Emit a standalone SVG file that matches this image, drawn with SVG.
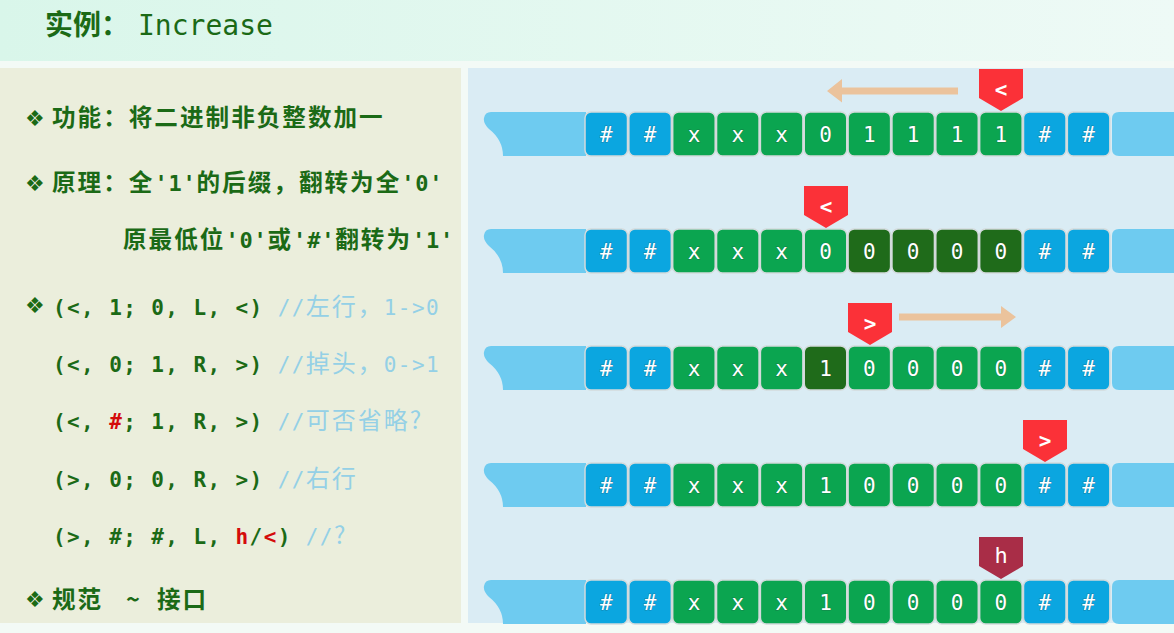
<svg xmlns="http://www.w3.org/2000/svg" width="1174" height="633" viewBox="0 0 1174 633">
<defs>
<linearGradient id="tg" x1="0" y1="0" x2="1" y2="0">
<stop offset="0" stop-color="#d9f6ea"/>
<stop offset="1" stop-color="#eefaf6"/>
</linearGradient>
<style>
.cjkb{font-family:"Noto Sans CJK SC","Noto Sans CJK JP",sans-serif;font-weight:bold;font-size:23.6px;letter-spacing:2px;fill:#1b6a16}
.monoi{font-family:"DejaVu Sans Mono",monospace;font-weight:bold;font-size:22px;letter-spacing:0.8px}
.mono{font-family:"DejaVu Sans Mono",monospace;font-weight:bold;font-size:21px;letter-spacing:1.4px;fill:#1b6a16}
.cm{font-family:"DejaVu Sans Mono",monospace;font-weight:normal;fill:#94d0e6}
.cmc{font-family:"Noto Sans CJK SC",sans-serif;font-weight:normal;font-size:24px;letter-spacing:2px;fill:#94d0e6}
.red{fill:#d40b0b}
.bul{font-family:"DejaVu Sans",sans-serif;font-size:22px;fill:#1b6a16}
.cell{stroke:#d3dadb;stroke-width:1.5}
.b{fill:#0ba6e0}
.g{fill:#0ba550}
.d{fill:#1f6b1a}
.ct{font-family:"DejaVu Sans Mono",monospace;font-size:21px;fill:#ffffff;text-anchor:middle;stroke:#2a3a3a;stroke-opacity:0.35;stroke-width:1;paint-order:stroke}
.end{fill:#6ecbf0}
.head{fill:#fb3138}
.hh{fill:#a92d47}
.ht{font-family:"DejaVu Sans Mono",monospace;font-size:21px;font-weight:bold;fill:#ffffff;text-anchor:middle}
.arr{fill:#ebc39c}
</style>
</defs>
<rect width="1174" height="633" fill="#f3faf6"/>
<rect x="0" y="0" width="1174" height="61" fill="url(#tg)"/>
<rect x="0" y="68" width="461" height="555" fill="#ebeedc"/>
<rect x="468" y="68" width="706" height="555" fill="#daecf4"/>

<g id="title">
<text x="45" y="35" style="font-family:'Noto Sans CJK SC',sans-serif;font-weight:bold;font-size:28px;fill:#1b6a16">实例：</text>
<text x="138" y="35" style="font-family:'DejaVu Sans Mono',monospace;font-size:28px;fill:#1b6a16">Increase</text>
</g>

<g id="left-text">
<text x="25" y="126" class="bul">❖</text>
<text x="52" y="126" class="cjkb">功能：将二进制非负整数加一</text>
<text x="25" y="191" class="bul">❖</text>
<text x="52" y="191" class="cjkb">原理：全<tspan class="monoi">'1'</tspan>的后缀，翻转为全<tspan class="monoi">'0'</tspan></text>
<text x="123" y="248" class="cjkb">原最低位<tspan class="monoi">'0'</tspan>或<tspan class="monoi">'#'</tspan>翻转为<tspan class="monoi">'1'</tspan></text>
<text x="25" y="313" class="bul">❖</text>
<text x="53" y="315" class="mono">(&lt;, 1; 0, L, &lt;) <tspan class="cm">//</tspan><tspan class="cmc">左行，</tspan><tspan class="cm">1-&gt;0</tspan></text>
<text x="53" y="372" class="mono">(&lt;, 0; 1, R, &gt;) <tspan class="cm">//</tspan><tspan class="cmc">掉头，</tspan><tspan class="cm">0-&gt;1</tspan></text>
<text x="53" y="429" class="mono">(&lt;, <tspan class="red">#</tspan>; 1, R, &gt;) <tspan class="cm">//</tspan><tspan class="cmc">可否省略?</tspan></text>
<text x="53" y="487" class="mono">(&gt;, 0; 0, R, &gt;) <tspan class="cm">//</tspan><tspan class="cmc">右行</tspan></text>
<text x="53" y="544" class="mono">(&gt;, #; #, L, <tspan class="red">h</tspan>/<tspan class="red">&lt;</tspan>) <tspan class="cm">//</tspan><tspan class="cmc">?</tspan></text>
<text x="25" y="607" class="bul">❖</text>
<text y="608" class="cjkb"><tspan x="52">规范</tspan><tspan x="126">~</tspan><tspan x="157">接口</tspan></text>
</g>

<g id="tape1">
<path class="end" d="M586,112 L491,112 Q485,112 484,118 Q483,123 489,129 Q503,140 503,156 L586,156 Z"/>
<path class="end" d="M1174,112 L1119,112 Q1112,112 1112,119 L1112,149 Q1112,156 1119,156 L1174,156 Z"/>
<rect class="cell b" x="585" y="112" width="42.5" height="44" rx="6"/>
<rect class="cell b" x="628.85" y="112" width="42.5" height="44" rx="6"/>
<rect class="cell g" x="672.7" y="112" width="42.5" height="44" rx="6"/>
<rect class="cell g" x="716.55" y="112" width="42.5" height="44" rx="6"/>
<rect class="cell g" x="760.4" y="112" width="42.5" height="44" rx="6"/>
<rect class="cell g" x="804.25" y="112" width="42.5" height="44" rx="6"/>
<rect class="cell g" x="848.1" y="112" width="42.5" height="44" rx="6"/>
<rect class="cell g" x="891.95" y="112" width="42.5" height="44" rx="6"/>
<rect class="cell g" x="935.8" y="112" width="42.5" height="44" rx="6"/>
<rect class="cell g" x="979.65" y="112" width="42.5" height="44" rx="6"/>
<rect class="cell b" x="1023.5" y="112" width="42.5" height="44" rx="6"/>
<rect class="cell b" x="1067.35" y="112" width="42.5" height="44" rx="6"/>
<text class="ct" y="142"><tspan x="606.3">#</tspan><tspan x="650.1">#</tspan><tspan x="694">x</tspan><tspan x="737.8">x</tspan><tspan x="781.7">x</tspan><tspan x="825.5">0</tspan><tspan x="869.4">1</tspan><tspan x="913.2">1</tspan><tspan x="957.1">1</tspan><tspan x="1000.9">1</tspan><tspan x="1044.8">#</tspan><tspan x="1088.6">#</tspan></text>
</g>

<g id="tape2">
<path class="end" d="M586,229 L491,229 Q485,229 484,235 Q483,240 489,246 Q503,257 503,273 L586,273 Z"/>
<path class="end" d="M1174,229 L1119,229 Q1112,229 1112,236 L1112,266 Q1112,273 1119,273 L1174,273 Z"/>
<rect class="cell b" x="585" y="229" width="42.5" height="44" rx="6"/>
<rect class="cell b" x="628.85" y="229" width="42.5" height="44" rx="6"/>
<rect class="cell g" x="672.7" y="229" width="42.5" height="44" rx="6"/>
<rect class="cell g" x="716.55" y="229" width="42.5" height="44" rx="6"/>
<rect class="cell g" x="760.4" y="229" width="42.5" height="44" rx="6"/>
<rect class="cell g" x="804.25" y="229" width="42.5" height="44" rx="6"/>
<rect class="cell d" x="848.1" y="229" width="42.5" height="44" rx="6"/>
<rect class="cell d" x="891.95" y="229" width="42.5" height="44" rx="6"/>
<rect class="cell d" x="935.8" y="229" width="42.5" height="44" rx="6"/>
<rect class="cell d" x="979.65" y="229" width="42.5" height="44" rx="6"/>
<rect class="cell b" x="1023.5" y="229" width="42.5" height="44" rx="6"/>
<rect class="cell b" x="1067.35" y="229" width="42.5" height="44" rx="6"/>
<text class="ct" y="259"><tspan x="606.3">#</tspan><tspan x="650.1">#</tspan><tspan x="694">x</tspan><tspan x="737.8">x</tspan><tspan x="781.7">x</tspan><tspan x="825.5">0</tspan><tspan x="869.4">0</tspan><tspan x="913.2">0</tspan><tspan x="957.1">0</tspan><tspan x="1000.9">0</tspan><tspan x="1044.8">#</tspan><tspan x="1088.6">#</tspan></text>
</g>

<g id="tape3">
<path class="end" d="M586,346 L491,346 Q485,346 484,352 Q483,357 489,363 Q503,374 503,390 L586,390 Z"/>
<path class="end" d="M1174,346 L1119,346 Q1112,346 1112,353 L1112,383 Q1112,390 1119,390 L1174,390 Z"/>
<rect class="cell b" x="585" y="346" width="42.5" height="44" rx="6"/>
<rect class="cell b" x="628.85" y="346" width="42.5" height="44" rx="6"/>
<rect class="cell g" x="672.7" y="346" width="42.5" height="44" rx="6"/>
<rect class="cell g" x="716.55" y="346" width="42.5" height="44" rx="6"/>
<rect class="cell g" x="760.4" y="346" width="42.5" height="44" rx="6"/>
<rect class="cell d" x="804.25" y="346" width="42.5" height="44" rx="6"/>
<rect class="cell g" x="848.1" y="346" width="42.5" height="44" rx="6"/>
<rect class="cell g" x="891.95" y="346" width="42.5" height="44" rx="6"/>
<rect class="cell g" x="935.8" y="346" width="42.5" height="44" rx="6"/>
<rect class="cell g" x="979.65" y="346" width="42.5" height="44" rx="6"/>
<rect class="cell b" x="1023.5" y="346" width="42.5" height="44" rx="6"/>
<rect class="cell b" x="1067.35" y="346" width="42.5" height="44" rx="6"/>
<text class="ct" y="376"><tspan x="606.3">#</tspan><tspan x="650.1">#</tspan><tspan x="694">x</tspan><tspan x="737.8">x</tspan><tspan x="781.7">x</tspan><tspan x="825.5">1</tspan><tspan x="869.4">0</tspan><tspan x="913.2">0</tspan><tspan x="957.1">0</tspan><tspan x="1000.9">0</tspan><tspan x="1044.8">#</tspan><tspan x="1088.6">#</tspan></text>
</g>

<g id="tape4">
<path class="end" d="M586,463 L491,463 Q485,463 484,469 Q483,474 489,480 Q503,491 503,507 L586,507 Z"/>
<path class="end" d="M1174,463 L1119,463 Q1112,463 1112,470 L1112,500 Q1112,507 1119,507 L1174,507 Z"/>
<rect class="cell b" x="585" y="463" width="42.5" height="44" rx="6"/>
<rect class="cell b" x="628.85" y="463" width="42.5" height="44" rx="6"/>
<rect class="cell g" x="672.7" y="463" width="42.5" height="44" rx="6"/>
<rect class="cell g" x="716.55" y="463" width="42.5" height="44" rx="6"/>
<rect class="cell g" x="760.4" y="463" width="42.5" height="44" rx="6"/>
<rect class="cell g" x="804.25" y="463" width="42.5" height="44" rx="6"/>
<rect class="cell g" x="848.1" y="463" width="42.5" height="44" rx="6"/>
<rect class="cell g" x="891.95" y="463" width="42.5" height="44" rx="6"/>
<rect class="cell g" x="935.8" y="463" width="42.5" height="44" rx="6"/>
<rect class="cell g" x="979.65" y="463" width="42.5" height="44" rx="6"/>
<rect class="cell b" x="1023.5" y="463" width="42.5" height="44" rx="6"/>
<rect class="cell b" x="1067.35" y="463" width="42.5" height="44" rx="6"/>
<text class="ct" y="493"><tspan x="606.3">#</tspan><tspan x="650.1">#</tspan><tspan x="694">x</tspan><tspan x="737.8">x</tspan><tspan x="781.7">x</tspan><tspan x="825.5">1</tspan><tspan x="869.4">0</tspan><tspan x="913.2">0</tspan><tspan x="957.1">0</tspan><tspan x="1000.9">0</tspan><tspan x="1044.8">#</tspan><tspan x="1088.6">#</tspan></text>
</g>

<g id="tape5">
<path class="end" d="M586,580 L491,580 Q485,580 484,586 Q483,591 489,597 Q503,608 503,624 L586,624 Z"/>
<path class="end" d="M1174,580 L1119,580 Q1112,580 1112,587 L1112,617 Q1112,624 1119,624 L1174,624 Z"/>
<rect class="cell b" x="585" y="580" width="42.5" height="44" rx="6"/>
<rect class="cell b" x="628.85" y="580" width="42.5" height="44" rx="6"/>
<rect class="cell g" x="672.7" y="580" width="42.5" height="44" rx="6"/>
<rect class="cell g" x="716.55" y="580" width="42.5" height="44" rx="6"/>
<rect class="cell g" x="760.4" y="580" width="42.5" height="44" rx="6"/>
<rect class="cell g" x="804.25" y="580" width="42.5" height="44" rx="6"/>
<rect class="cell g" x="848.1" y="580" width="42.5" height="44" rx="6"/>
<rect class="cell g" x="891.95" y="580" width="42.5" height="44" rx="6"/>
<rect class="cell g" x="935.8" y="580" width="42.5" height="44" rx="6"/>
<rect class="cell g" x="979.65" y="580" width="42.5" height="44" rx="6"/>
<rect class="cell b" x="1023.5" y="580" width="42.5" height="44" rx="6"/>
<rect class="cell b" x="1067.35" y="580" width="42.5" height="44" rx="6"/>
<text class="ct" y="610"><tspan x="606.3">#</tspan><tspan x="650.1">#</tspan><tspan x="694">x</tspan><tspan x="737.8">x</tspan><tspan x="781.7">x</tspan><tspan x="825.5">1</tspan><tspan x="869.4">0</tspan><tspan x="913.2">0</tspan><tspan x="957.1">0</tspan><tspan x="1000.9">0</tspan><tspan x="1044.8">#</tspan><tspan x="1088.6">#</tspan></text>
</g>

<g id="head1">
<path class="head" d="M979,69 L1023,69 L1023,98 L1001,111 L979,98 Z"/>
<text class="ht" x="1001" y="97">&lt;</text>
</g>
<g id="head2">
<path class="head" d="M804,186 L848,186 L848,215 L826,228 L804,215 Z"/>
<text class="ht" x="826" y="214">&lt;</text>
</g>
<g id="head3">
<path class="head" d="M848,303 L892,303 L892,332 L870,345 L848,332 Z"/>
<text class="ht" x="870" y="331">&gt;</text>
</g>
<g id="head4">
<path class="head" d="M1023,420 L1067,420 L1067,449 L1045,462 L1023,449 Z"/>
<text class="ht" x="1045" y="448">&gt;</text>
</g>
<g id="head5">
<path class="hh" d="M979,537 L1023,537 L1023,566 L1001,579 L979,566 Z"/>
<text class="ht" x="1001" y="563" style="font-weight:normal;font-size:22px">h</text>
</g>

<g id="connectors">
<path class="arr" d="M958,87.5 L842,87.5 L842,79 L827,91 L842,102.5 L842,94.5 L958,94.5 Z"/>
<path class="arr" d="M899,313.5 L1001,313.5 L1001,306 L1016,317 L1001,328 L1001,320.5 L899,320.5 Z"/>
</g>
</svg>
